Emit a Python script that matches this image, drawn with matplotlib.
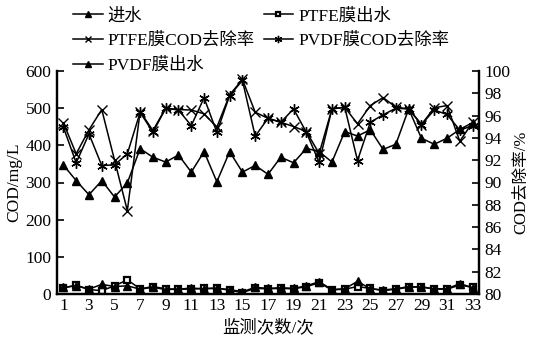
import numpy as np
import matplotlib
matplotlib.use("Agg")
import matplotlib.pyplot as plt

plt.rcParams['font.family'] = ['Liberation Serif', 'Noto Sans CJK SC']
plt.rcParams['font.size'] = 12.5
plt.rcParams['axes.unicode_minus'] = False

# ── 数据 ──
runs = np.arange(1, 34)
influent = [347, 305, 267, 305, 261, 299, 391, 368, 355, 374, 328, 383, 302, 383, 328,
            346, 322, 368, 353, 392, 383, 355, 437, 425, 442, 389, 403, 498, 419, 403,
            419, 443, 461]
ptfe_out = [16, 24, 12, 9, 22, 38, 14, 20, 14, 13, 13, 15, 16, 10, 4, 15, 14, 15, 14, 20,
            30, 11, 13, 20, 15, 9, 13, 18, 20, 13, 13, 24, 18]
pvdf_out = [18, 22, 13, 26, 20, 22, 13, 18, 12, 13, 16, 14, 15, 12, 6, 18, 15, 17, 15, 22,
            33, 12, 14, 34, 14, 11, 14, 20, 18, 14, 14, 28, 17]
ptfe_rem = [95.35, 92.57, 94.72, 96.54, 92.0, 87.48, 96.36, 94.66, 96.66, 96.54, 96.5,
            96.16, 94.96, 97.86, 99.24, 96.3, 95.76, 95.4, 95.02, 94.57, 92.6, 96.6, 96.75,
            95.26, 96.9, 97.62, 96.75, 96.6, 95.2, 96.7, 96.9, 93.7, 95.4]
pvdf_rem = [94.96, 91.76, 94.36, 91.52, 91.58, 92.57, 96.3, 94.5, 96.66, 96.5, 95.1,
            97.6, 94.5, 97.8, 99.15, 94.15, 95.76, 95.4, 96.6, 94.5, 91.8, 96.6, 96.75,
            91.97, 95.4, 96.07, 96.66, 96.6, 95.2, 96.5, 96.1, 94.7, 95.1]

# ── 绘图 ──
fig = plt.figure(figsize=(5.4, 3.54), dpi=100)
ax = fig.add_axes([57/540, 1-294/354, (479-57)/540, (294-71)/354])
ax2 = ax.twinx()

kw = dict(color="black", lw=1.1)
h1, = ax.plot(runs, influent, marker="^", ms=6, label="进水", **kw)
h2, = ax.plot(runs, ptfe_out, marker="s", ms=4.8, mfc="white", mec="black", mew=1.6,
              label="PTFE膜出水", **kw)
h5, = ax.plot(runs, pvdf_out, marker="^", ms=6, label="PVDF膜出水", **kw)
h3, = ax2.plot(runs, ptfe_rem, marker="x", ms=6.5, mew=1.0, label="PTFE膜COD去除率", **kw)
h4, = ax2.plot(runs, pvdf_rem, marker=(6, 2, 0), ms=7.5, mew=1.0, label="PVDF膜COD去除率", **kw)

ax.set_xlim(0.5, 33.5)
ax.set_ylim(0, 600)
ax2.set_ylim(80, 100)
ax.set_xticks(np.arange(1, 34, 2))
ax.set_yticks(np.arange(0, 601, 100))
ax2.set_yticks(np.arange(80, 101, 2))

for a in (ax, ax2):
    a.spines["top"].set_visible(False)
    for s in ("left", "right", "bottom"):
        a.spines[s].set_linewidth(1.6)
ax.tick_params(axis="y", direction="in", length=5, width=1.2, labelsize=12.5, pad=4)
ax2.tick_params(axis="y", direction="in", length=5, width=1.2, labelsize=12.5, pad=4)
ax.tick_params(axis="x", length=0, labelsize=12.5, pad=3)

ax.set_ylabel("COD/mg/L", fontsize=12.5, labelpad=0)
ax.yaxis.set_label_coords(-0.083, 0.5)
ax2.set_ylabel("COD去除率/%", fontsize=12, labelpad=2)
ax.set_xlabel("监测次数/次", fontsize=12.5, labelpad=4)

fig.legend(handles=[h1, h3, h5, h2, h4], loc="upper left", ncol=2,
           bbox_to_anchor=(73/540, 1-8/354), frameon=False, fontsize=12.5,
           borderpad=0, borderaxespad=0, handlelength=1.7, handletextpad=0.3,
           columnspacing=0.5, labelspacing=0.5, markerscale=0.7)

plt.savefig("out.png", dpi=100, facecolor="white")
plt.close()
